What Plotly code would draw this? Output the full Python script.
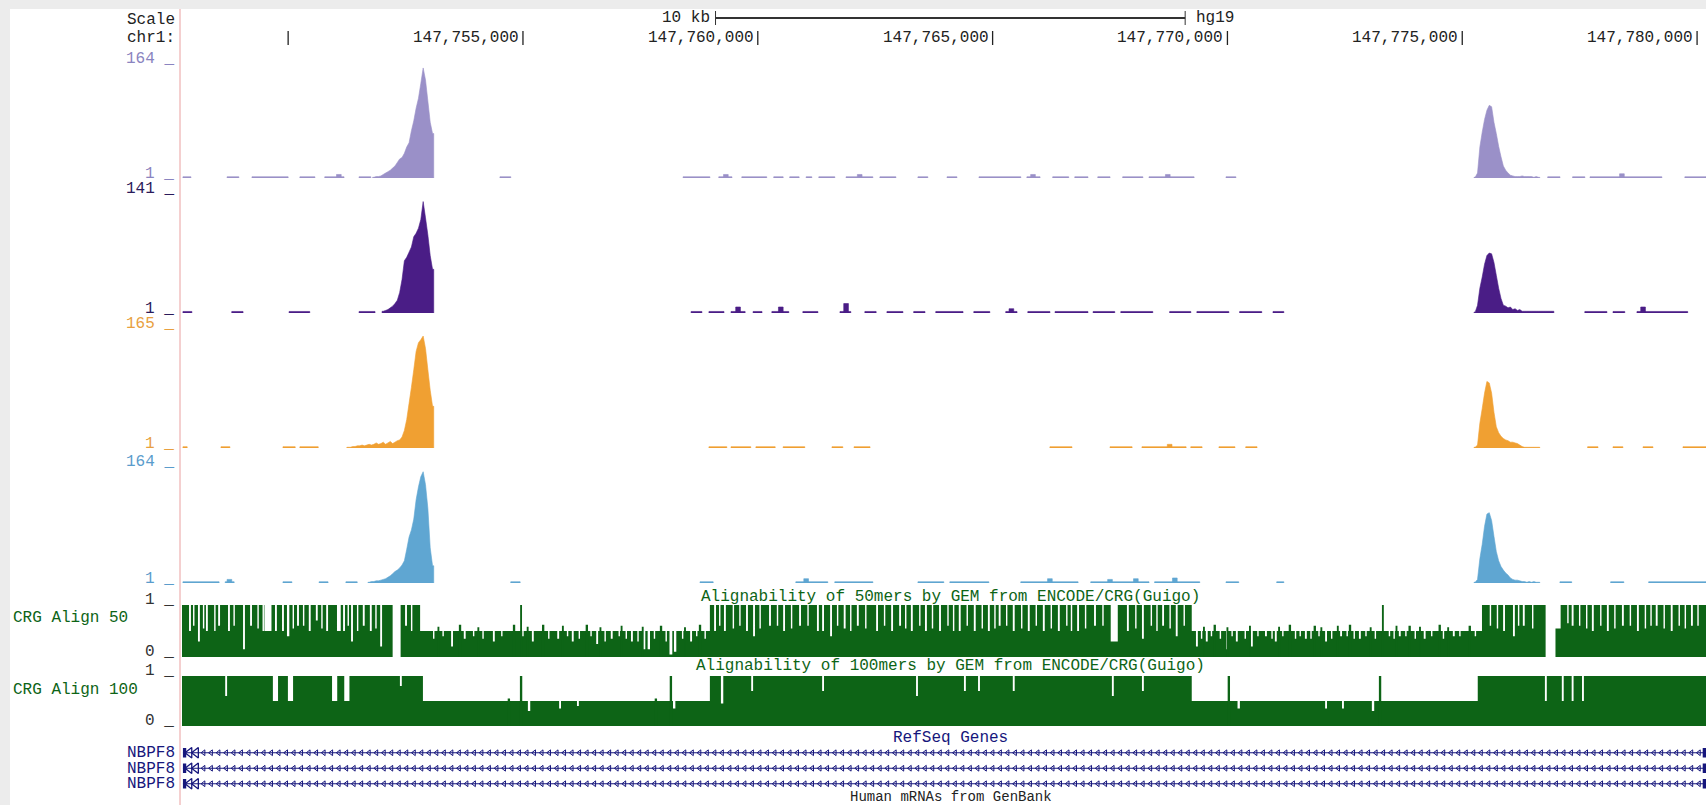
import plotly.graph_objects as go

W, H = 1706, 805
FONT = "Liberation Mono"
FS = 16

# ---------------- data (positions in kb on chr1) ----------------
VIEW_START = 147747.74
VIEW_END = 147780.19
TICK_POS = [147750, 147755, 147760, 147765, 147770, 147775, 147780]
TICK_LABELS = ["", "147,755,000", "147,760,000", "147,765,000", "147,770,000", "147,775,000", "147,780,000"]
SCALE_BAR_START = 147759.1
SCALE_BAR_KB = 10
PEAK_BIN = 0.05      # kb per signal bin
DASH_LEVEL = 2.8     # low background coverage

# Track 1 (light purple)
t1_max = 164
t1_dash = [[147747.76, 147747.93], [147748.70, 147748.95], [147749.23, 147750.00], [147750.25, 147750.57],
           [147750.78, 147751.19], [147751.51, 147751.76], [147754.51, 147754.74], [147758.41, 147758.98],
           [147759.17, 147759.45], [147759.66, 147760.19], [147760.34, 147760.54], [147760.68, 147760.88],
           [147761.03, 147761.15], [147761.30, 147761.64], [147761.88, 147762.45], [147762.60, 147762.94],
           [147763.41, 147763.62], [147764.03, 147764.24], [147764.71, 147765.60], [147765.73, 147766.01],
           [147766.28, 147766.62], [147766.75, 147767.03], [147767.24, 147767.50], [147767.77, 147768.20],
           [147768.33, 147769.29], [147769.97, 147770.18], [147776.82, 147777.08], [147777.35, 147777.61],
           [147777.72, 147779.25], [147779.74, 147780.19]]
t1_bump_pos = [147751.08, 147759.32, 147762.17, 147765.86, 147768.73, 147778.40]
t1_bump_val = [6, 6, 6, 6, 6, 7]
t1_peakA_start = 147751.80
t1_peakA = [2, 3, 3, 4, 6, 8, 10, 12, 15, 18, 23, 28, 30, 36, 45, 51, 68, 82, 100, 114, 135, 157, 140, 110, 80, 64]
t1_peakB_start = 147775.25
t1_peakB = [2, 8, 45, 66, 84, 97, 104, 102, 80, 64, 46, 31, 18, 12, 8, 5, 4, 3, 3, 3, 4, 3, 3, 3, 3, 2, 3, 2]

# Track 2 (dark purple)
t2_max = 141
t2_dash = [[147747.76, 147747.95], [147748.80, 147749.04], [147750.02, 147750.46], [147751.51, 147751.85],
           [147758.58, 147758.81], [147758.96, 147759.28], [147759.43, 147759.73], [147759.90, 147760.09],
           [147760.30, 147760.66], [147760.96, 147761.28], [147761.75, 147761.98], [147762.28, 147762.52],
           [147762.75, 147763.09], [147763.32, 147763.56], [147763.79, 147764.37], [147764.60, 147764.94],
           [147765.28, 147765.52], [147765.75, 147766.22], [147766.33, 147767.03], [147767.14, 147767.60],
           [147767.73, 147768.41], [147768.77, 147769.22], [147769.35, 147770.03], [147770.26, 147770.73],
           [147770.97, 147771.20], [147777.61, 147778.08], [147778.21, 147778.46], [147778.72, 147779.80]]
t2_bump_pos = [147759.58, 147760.49, 147761.88, 147765.40, 147778.85]
t2_bump_val = [8, 8, 12, 6, 8]
t2_peakA_start = 147752.00
t2_peakA = [3, 4, 5, 7, 9, 12, 16, 25, 40, 62, 66, 72, 78, 90, 94, 100, 110, 131, 112, 92, 68, 52]
t2_peakB_start = 147775.25
t2_peakB = [2, 10, 30, 43, 58, 68, 71, 70, 60, 45, 30, 18, 10, 9, 7, 8, 5, 6, 4, 5,
            3, 3, 3, 3, 3, 3, 3, 3, 3, 3, 3, 3, 3, 3]

# Track 3 (orange)
t3_max = 165
t3_dash = [[147747.76, 147747.85], [147748.57, 147748.76], [147749.89, 147750.15], [147750.25, 147750.64],
           [147758.96, 147759.34], [147759.43, 147759.85], [147759.96, 147760.37], [147760.54, 147761.00],
           [147761.58, 147761.81], [147762.05, 147762.39], [147766.22, 147766.69], [147767.50, 147767.97],
           [147768.18, 147769.12], [147769.22, 147769.46], [147769.82, 147770.16], [147770.39, 147770.63],
           [147777.67, 147777.89], [147778.21, 147778.42], [147778.85, 147779.06], [147779.70, 147780.19]]
t3_bump_pos = [147768.77]
t3_bump_val = [6]
t3_peakA_start = 147751.25
t3_peakA = [2, 2, 3, 3, 4, 4, 5, 4, 5, 6, 5, 6, 8, 6, 7, 9, 6, 8, 10, 7,
            9, 11, 12, 16, 25, 40, 62, 84, 108, 133, 145, 149, 154, 137, 108, 80, 58]
t3_peakB_start = 147775.25
t3_peakB = [2, 5, 35, 55, 76, 92, 90, 76, 50, 30, 22, 17, 14, 12, 11, 9, 9, 8, 7, 5, 3, 2, 2, 2, 2, 2, 2, 2]

# Track 4 (blue)
t4_max = 164
t4_dash = [[147747.76, 147748.53], [147748.66, 147748.85], [147749.89, 147750.08], [147750.66, 147750.85],
           [147751.23, 147751.47], [147754.74, 147754.94], [147758.77, 147759.05], [147760.81, 147761.49],
           [147761.64, 147762.45], [147763.41, 147763.96], [147764.09, 147764.92], [147765.60, 147766.82],
           [147767.09, 147768.33], [147768.45, 147769.41], [147769.97, 147770.24], [147771.05, 147771.20],
           [147777.08, 147777.33], [147778.16, 147778.44], [147778.97, 147780.19]]
t4_bump_pos = [147748.75, 147761.03, 147766.22, 147767.50, 147768.05, 147768.88]
t4_bump_val = [6, 7, 7, 6, 7, 8]
t4_peakA_start = 147751.70
t4_peakA = [2, 3, 3, 4, 4, 5, 6, 7, 9, 11, 14, 17, 19, 22, 26, 32, 48, 65, 75, 90,
            117, 135, 149, 156, 138, 105, 50, 25]
t4_peakB_start = 147775.25
t4_peakB = [2, 6, 35, 55, 80, 97, 99, 88, 66, 45, 32, 24, 19, 15, 12, 8, 6, 5, 5, 4, 3, 3, 2, 3, 2, 3, 2, 2]

# Alignability of 50mers: [start, end, level]; dips/spikes: (pos, width, value)
a50_regions = [[147747.74, 147752.81, 1.0], [147752.81, 147758.98, 0.5], [147758.98, 147769.24, 1.0],
               [147769.24, 147775.42, 0.5], [147775.42, 147780.19, 1.0]]
a50_dips = [(147747.91, 0.04, 0.5), (147748.10, 0.04, 0.3), (147748.27, 0.04, 0.5), (147748.53, 0.04, 0.6),
            (147748.74, 0.04, 0.5), (147749.06, 0.04, 0.15), (147749.21, 0.04, 0.6), (147749.57, 0.15, 0.5),
            (147749.74, 0.04, 0.5), (147749.89, 0.04, 0.5), (147750.00, 0.05, 0.4), (147750.21, 0.04, 0.6),
            (147750.46, 0.04, 0.5), (147750.61, 0.04, 0.7), (147750.83, 0.04, 0.5), (147751.08, 0.08, 0.5),
            (147751.19, 0.04, 0.5), (147751.36, 0.04, 0.3), (147751.61, 0.04, 0.6), (147751.76, 0.04, 0.5),
            (147751.98, 0.04, 0.2), (147752.31, 0.17, 0.0), (147752.51, 0.04, 0.6),
            (147747.99, 0.03, 0.6), (147748.20, 0.03, 0.55), (147748.44, 0.03, 0.5), (147748.85, 0.03, 0.6),
            (147749.36, 0.03, 0.55), (147749.47, 0.03, 0.5), (147750.11, 0.03, 0.55), (147750.33, 0.03, 0.6),
            (147750.72, 0.03, 0.55), (147751.28, 0.03, 0.6), (147751.48, 0.03, 0.5), (147751.87, 0.03, 0.55),
            (147752.63, 0.03, 0.5),
            (147753.49, 0.04, 0.2), (147753.76, 0.04, 0.35), (147754.38, 0.04, 0.3), (147755.21, 0.04, 0.3),
            (147755.75, 0.04, 0.35), (147756.06, 0.04, 0.3), (147756.58, 0.04, 0.25), (147756.89, 0.04, 0.35),
            (147757.32, 0.04, 0.3), (147757.58, 0.05, 0.15), (147757.68, 0.05, 0.15), (147758.15, 0.06, 0.05),
            (147758.24, 0.05, 0.1), (147758.58, 0.04, 0.3),
            (147753.10, 0.03, 0.35), (147753.30, 0.03, 0.4), (147753.95, 0.03, 0.4), (147754.15, 0.03, 0.35),
            (147754.55, 0.03, 0.4), (147755.00, 0.03, 0.4), (147755.55, 0.03, 0.35), (147755.95, 0.03, 0.4),
            (147756.20, 0.03, 0.35), (147756.45, 0.03, 0.4), (147756.75, 0.03, 0.3), (147757.05, 0.03, 0.4),
            (147757.20, 0.03, 0.35), (147757.45, 0.03, 0.3), (147757.80, 0.03, 0.35), (147758.05, 0.03, 0.3),
            (147758.40, 0.03, 0.35), (147758.70, 0.03, 0.4), (147758.88, 0.03, 0.35),
            (147759.09, 0.04, 0.5), (147759.30, 0.04, 0.5), (147759.77, 0.04, 0.5), (147759.92, 0.04, 0.4),
            (147760.26, 0.04, 0.6), (147760.56, 0.04, 0.5), (147760.90, 0.04, 0.6), (147761.28, 0.04, 0.5),
            (147761.39, 0.04, 0.5), (147761.56, 0.04, 0.4), (147761.85, 0.04, 0.55), (147762.13, 0.04, 0.6),
            (147762.54, 0.04, 0.5), (147762.86, 0.04, 0.5), (147763.03, 0.04, 0.6), (147763.28, 0.04, 0.5),
            (147763.58, 0.04, 0.5), (147763.88, 0.04, 0.5), (147764.30, 0.04, 0.5), (147764.62, 0.04, 0.5),
            (147764.92, 0.04, 0.5), (147765.15, 0.04, 0.6), (147765.45, 0.04, 0.5), (147765.77, 0.04, 0.5),
            (147766.09, 0.04, 0.5), (147766.41, 0.04, 0.5), (147766.82, 0.04, 0.5), (147767.18, 0.04, 0.6),
            (147767.59, 0.15, 0.3), (147767.88, 0.04, 0.5), (147768.20, 0.04, 0.35), (147768.63, 0.04, 0.6),
            (147768.92, 0.04, 0.4),
            (147759.19, 0.03, 0.6), (147759.48, 0.03, 0.55), (147759.62, 0.03, 0.6), (147760.05, 0.03, 0.55),
            (147760.42, 0.03, 0.6), (147760.72, 0.03, 0.55), (147761.07, 0.03, 0.6), (147761.70, 0.03, 0.6),
            (147761.98, 0.03, 0.5), (147762.30, 0.03, 0.55), (147762.70, 0.03, 0.6), (147763.15, 0.03, 0.55),
            (147763.45, 0.03, 0.6), (147763.72, 0.03, 0.55), (147764.05, 0.03, 0.6), (147764.17, 0.03, 0.5),
            (147764.46, 0.03, 0.6), (147764.78, 0.03, 0.55), (147765.05, 0.03, 0.55), (147765.30, 0.03, 0.6),
            (147765.62, 0.03, 0.55), (147765.93, 0.03, 0.6), (147766.25, 0.03, 0.55), (147766.58, 0.03, 0.6),
            (147766.68, 0.03, 0.5), (147766.98, 0.03, 0.55), (147767.35, 0.03, 0.6), (147768.05, 0.03, 0.55),
            (147768.38, 0.03, 0.6), (147768.50, 0.03, 0.5), (147768.78, 0.03, 0.55), (147769.08, 0.03, 0.6),
            (147769.35, 0.04, 0.2), (147769.56, 0.04, 0.3), (147769.99, 0.04, 0.15), (147770.20, 0.04, 0.3),
            (147770.52, 0.04, 0.2), (147770.82, 0.04, 0.4), (147771.03, 0.04, 0.3), (147771.67, 0.04, 0.35),
            (147772.10, 0.04, 0.3), (147772.42, 0.04, 0.4), (147772.82, 0.04, 0.35), (147773.67, 0.04, 0.4),
            (147774.20, 0.04, 0.35), (147774.82, 0.04, 0.4),
            (147769.45, 0.03, 0.35), (147769.66, 0.03, 0.4), (147769.85, 0.03, 0.35), (147770.10, 0.03, 0.4),
            (147770.38, 0.03, 0.35), (147770.65, 0.03, 0.4), (147770.95, 0.03, 0.35), (147771.18, 0.03, 0.4),
            (147771.45, 0.03, 0.35), (147771.55, 0.03, 0.4), (147771.78, 0.03, 0.35), (147771.95, 0.03, 0.4),
            (147772.22, 0.03, 0.35), (147772.55, 0.03, 0.4), (147772.70, 0.03, 0.35), (147772.95, 0.03, 0.4),
            (147773.15, 0.03, 0.35), (147773.45, 0.03, 0.4), (147773.55, 0.03, 0.35), (147773.80, 0.03, 0.4),
            (147774.00, 0.03, 0.35), (147774.35, 0.03, 0.4), (147774.60, 0.03, 0.35), (147774.95, 0.03, 0.4),
            (147775.28, 0.03, 0.4),
            (147775.89, 0.04, 0.5), (147776.10, 0.04, 0.4), (147776.31, 0.04, 0.6), (147776.88, 0.21, 0.0),
            (147777.04, 0.11, 0.55), (147777.35, 0.04, 0.6), (147777.78, 0.04, 0.5), (147778.10, 0.04, 0.5),
            (147778.42, 0.04, 0.6), (147778.74, 0.04, 0.5), (147779.14, 0.04, 0.6), (147779.46, 0.04, 0.5),
            (147779.89, 0.04, 0.6),
            (147775.60, 0.03, 0.6), (147775.75, 0.03, 0.55), (147776.20, 0.03, 0.6), (147776.50, 0.03, 0.55),
            (147777.25, 0.03, 0.65), (147777.50, 0.03, 0.6), (147777.65, 0.03, 0.55), (147777.95, 0.03, 0.6),
            (147778.25, 0.03, 0.55), (147778.58, 0.03, 0.6), (147778.90, 0.03, 0.55), (147779.02, 0.03, 0.6),
            (147779.30, 0.03, 0.55), (147779.62, 0.03, 0.6), (147779.75, 0.03, 0.55), (147780.02, 0.03, 0.6)]
a50_spikes = [(147754.96, 0.04, 1.0), (147773.31, 0.04, 1.0),
              (147753.66, 0.05, 0.62), (147754.81, 0.05, 0.62), (147755.43, 0.05, 0.62), (147756.36, 0.05, 0.62),
              (147757.94, 0.05, 0.60), (147758.77, 0.05, 0.62), (147769.73, 0.05, 0.62), (147771.33, 0.05, 0.62),
              (147771.86, 0.05, 0.60), (147772.61, 0.05, 0.62), (147773.88, 0.05, 0.60), (147774.52, 0.05, 0.62),
              (147775.16, 0.05, 0.60),
              (147753.20, 0.04, 0.58), (147754.05, 0.04, 0.57), (147755.10, 0.04, 0.58), (147755.85, 0.04, 0.60),
              (147756.65, 0.04, 0.57), (147757.10, 0.04, 0.60), (147757.55, 0.04, 0.58), (147758.45, 0.04, 0.57),
              (147769.50, 0.04, 0.58), (147770.00, 0.04, 0.57), (147770.48, 0.04, 0.60), (147771.10, 0.04, 0.58),
              (147772.00, 0.04, 0.57), (147772.35, 0.04, 0.60), (147773.05, 0.04, 0.57), (147773.60, 0.04, 0.60),
              (147774.10, 0.04, 0.58), (147774.70, 0.04, 0.57)]

# Alignability of 100mers
a100_regions = [[147747.74, 147752.87, 1.0], [147752.87, 147758.98, 0.5], [147758.98, 147769.24, 1.0],
                [147769.24, 147775.33, 0.5], [147775.33, 147780.19, 1.0]]
a100_dips = [(147748.68, 0.04, 0.6), (147749.73, 0.11, 0.5), (147750.05, 0.11, 0.5), (147750.99, 0.11, 0.5),
             (147751.25, 0.11, 0.5), (147752.40, 0.04, 0.8),
             (147755.13, 0.05, 0.3), (147755.79, 0.04, 0.35), (147756.17, 0.04, 0.4), (147758.22, 0.05, 0.35),
             (147759.24, 0.05, 0.45), (147759.88, 0.04, 0.7), (147761.39, 0.04, 0.7), (147763.39, 0.04, 0.6),
             (147764.41, 0.04, 0.7), (147764.71, 0.04, 0.7), (147765.45, 0.04, 0.7), (147767.56, 0.04, 0.6),
             (147768.20, 0.04, 0.7),
             (147770.24, 0.05, 0.35), (147772.10, 0.04, 0.35), (147772.46, 0.04, 0.35), (147773.10, 0.05, 0.3),
             (147776.78, 0.04, 0.5), (147777.14, 0.04, 0.5), (147777.35, 0.04, 0.5), (147777.57, 0.04, 0.5)]
a100_spikes = [(147754.96, 0.05, 1.0), (147758.15, 0.05, 1.0), (147770.03, 0.05, 1.0), (147773.25, 0.05, 1.0),
               (147754.70, 0.05, 0.55), (147757.83, 0.05, 0.55)]

# RefSeq genes
gene_names = ["NBPF8", "NBPF8", "NBPF8"]
gene_start = 147747.76
gene_end = 147780.19
gene_exons = [[147747.76, 147747.83], [147780.12, 147780.19]]
gene_first_arrows = [147747.90, 147748.04]
INTRON_ARROW_STEP = 0.16

# ---------------- colours ----------------
C1, C2, C3, C4 = "#9a90c8", "#4a1d86", "#f0a032", "#5fa6d2"
GREEN = "#0d6416"
NAVY = "#16167c"

# ---------------- helpers ----------------
def py(p):
    return 1 - p / H


def rect_path(segs, vals, base):
    xs, ys = [], []
    for (s, e), v in zip(segs, vals):
        xs += [s, s, e, e, s, None]
        ys += [base, v, v, base, base, None]
    return xs, ys


def peak_path(start, vals, base):
    # outline through bin centres
    end = start + len(vals) * PEAK_BIN
    xs = [start, start] + [start + (i + 0.5) * PEAK_BIN for i in range(len(vals))] + [end, end, start, None]
    ys = [base, vals[0]] + list(vals) + [vals[-1], base, base, None]
    return xs, ys


def poly_trace(xs, ys, color, yaxis, lw=0.0):
    return go.Scatter(x=xs, y=ys, mode="lines", fill="toself", fillcolor=color,
                      line=dict(width=lw, color=color, simplify=False), yaxis=yaxis, hoverinfo="skip",
                      showlegend=False)


fig = go.Figure()

chip = [
    ("y", C1, t1_max, t1_dash, t1_bump_pos, t1_bump_val, t1_peakA_start, t1_peakA, t1_peakB_start, t1_peakB),
    ("y2", C2, t2_max, t2_dash, t2_bump_pos, t2_bump_val, t2_peakA_start, t2_peakA, t2_peakB_start, t2_peakB),
    ("y3", C3, t3_max, t3_dash, t3_bump_pos, t3_bump_val, t3_peakA_start, t3_peakA, t3_peakB_start, t3_peakB),
    ("y4", C4, t4_max, t4_dash, t4_bump_pos, t4_bump_val, t4_peakA_start, t4_peakA, t4_peakB_start, t4_peakB),
]
for ya, col, mx, dash, bpos, bval, pas, pa, pbs, pb in chip:
    xs, ys = rect_path(dash, [DASH_LEVEL] * len(dash), 1)
    fig.add_trace(poly_trace(xs, ys, col, ya, 0.6))
    xs, ys = rect_path([[p - 0.05, p + 0.05] for p in bpos], bval, 1)
    fig.add_trace(poly_trace(xs, ys, col, ya, 0.6))
    for st, vals in ((pas, pa), (pbs, pb)):
        xs, ys = peak_path(st, vals, 1)
        fig.add_trace(poly_trace(xs, ys, col, ya, 0.6))

for ya, regions, dips, spikes in (("y5", a50_regions, a50_dips, a50_spikes),
                                   ("y6", a100_regions, a100_dips, a100_spikes)):
    xs, ys = rect_path([[r[0], r[1]] for r in regions], [r[2] for r in regions], 0)
    fig.add_trace(poly_trace(xs, ys, GREEN, ya))
    dx, dy = [], []
    for p, w, v in dips:
        dx += [p - w / 2, p - w / 2, p + w / 2, p + w / 2, p - w / 2, None]
        dy += [v, 1.0, 1.0, v, v, None]
    fig.add_trace(poly_trace(dx, dy, "white", ya))
    xs, ys = rect_path([[p - w / 2, p + w / 2] for p, w, v in spikes], [v for p, w, v in spikes], 0)
    fig.add_trace(poly_trace(xs, ys, GREEN, ya))

# genes
for i, name in enumerate(gene_names):
    row = 2.5 - i
    fig.add_trace(go.Scatter(x=[gene_start, gene_end], y=[row, row], mode="lines",
                             line=dict(color=NAVY, width=1), yaxis="y7", hoverinfo="skip", showlegend=False))
    n = int((gene_end - gene_start) / INTRON_ARROW_STEP)
    ax = [gene_first_arrows[-1] + INTRON_ARROW_STEP * (k + 1) for k in range(n)]
    ax = [a for a in ax if a < gene_end - 0.05]
    fig.add_trace(go.Scatter(x=ax, y=[row] * len(ax), mode="markers",
                             marker=dict(symbol="triangle-left-open", size=5, color=NAVY, line=dict(width=1, color=NAVY)),
                             yaxis="y7", hoverinfo="skip", showlegend=False))
    fig.add_trace(go.Scatter(x=gene_first_arrows, y=[row] * 2, mode="markers",
                             marker=dict(symbol="triangle-left-open", size=9, color=NAVY, line=dict(width=1.3, color=NAVY)),
                             yaxis="y7", hoverinfo="skip", showlegend=False))
    xs, ys = rect_path(gene_exons, [row + 0.3] * len(gene_exons), row - 0.3)
    fig.add_trace(poly_trace(xs, ys, NAVY, "y7"))

# ---------------- layout ----------------
def yax(top_px, bot_px, lo, hi):
    return dict(domain=[py(bot_px), py(top_px)], range=[lo, hi], anchor="x", visible=False,
                fixedrange=True, showgrid=False, zeroline=False)

TRACK_PX = [(63, 178), (193, 313), (328, 448), (466, 583)]
layout = dict(
    width=W, height=H, margin=dict(l=0, r=0, t=0, b=0),
    paper_bgcolor="#ececec", plot_bgcolor="white", showlegend=False,
    xaxis=dict(domain=[182 / W, 1], range=[VIEW_START, VIEW_END], visible=False, fixedrange=True,
               showgrid=False, zeroline=False),
    yaxis=yax(*TRACK_PX[0], 1, t1_max),
    yaxis2=yax(*TRACK_PX[1], 1, t2_max),
    yaxis3=yax(*TRACK_PX[2], 1, t3_max),
    yaxis4=yax(*TRACK_PX[3], 1, t4_max),
    yaxis5=yax(605, 657, 0, 1),
    yaxis6=yax(676, 726, 0, 1),
    yaxis7=yax(745, 791.5, 0, 3),
)
fig.update_layout(**layout)

shapes = [
    dict(type="rect", xref="paper", yref="paper", x0=10 / W, x1=1, y0=0, y1=py(9),
         fillcolor="white", line=dict(width=0), layer="below"),
    dict(type="line", xref="paper", yref="paper", x0=180 / W, x1=180 / W, y0=0, y1=py(9),
         line=dict(color="#eaa0a0", width=1)),
    dict(type="line", xref="x", yref="paper", x0=SCALE_BAR_START, x1=SCALE_BAR_START + SCALE_BAR_KB,
         y0=py(18), y1=py(18), line=dict(color="#333333", width=2)),
    dict(type="line", xref="x", yref="paper", x0=SCALE_BAR_START, x1=SCALE_BAR_START,
         y0=py(11), y1=py(25), line=dict(color="#333333", width=1)),
    dict(type="line", xref="x", yref="paper", x0=SCALE_BAR_START + SCALE_BAR_KB, x1=SCALE_BAR_START + SCALE_BAR_KB,
         y0=py(11), y1=py(25), line=dict(color="#333333", width=1)),
]
for t in TICK_POS:
    shapes.append(dict(type="line", xref="x", yref="paper", x0=t, x1=t, y0=py(31), y1=py(45),
                       line=dict(color="#222222", width=1.3)))

ann = []


def label(text, xp, yp, color, anchor="right", xref="paper", size=FS):
    ann.append(dict(text=text, x=(xp / W if xref == "paper" else xp), y=py(yp), xref=xref, yref="paper",
                    xanchor=anchor, yanchor="middle", showarrow=False,
                    font=dict(family=FONT, size=size, color=color)))


label("Scale", 177, 20, "#222222")
label("chr1:", 177, 38, "#222222")
label("10 kb", 712, 18, "#222222")
label("hg19", 1194, 18, "#222222", anchor="left")
for t, lab in zip(TICK_POS, TICK_LABELS):
    if lab:
        ann.append(dict(text=lab, x=t, y=py(38), xref="x", yref="paper", xanchor="right", xshift=-2,
                        yanchor="middle", showarrow=False, font=dict(family=FONT, size=FS, color="#222222")))

for (top, bot), mx, col, lc in zip(TRACK_PX, [t1_max, t2_max, t3_max, t4_max], [C1, C2, C3, C4],
                                   ["#8a84c0", "#2a1a5a", "#e8a040", "#5a9ccc"]):
    label(f"{mx} _", 176, top - 4, lc)
    label("1 _", 176, bot - 4, lc)

label("1 _", 176, 600, "#333333")
label("0 _", 176, 652, "#333333")
label("1 _", 176, 671, "#333333")
label("0 _", 176, 721, "#333333")
label("CRG Align 50", 11, 618, GREEN, anchor="left")
label("CRG Align 100", 11, 690, GREEN, anchor="left")
label("Alignability of 50mers by GEM from ENCODE/CRG(Guigo)", 950, 597, GREEN, anchor="center")
label("Alignability of 100mers by GEM from ENCODE/CRG(Guigo)", 950, 666, GREEN, anchor="center")
label("RefSeq Genes", 951, 738, NAVY, anchor="center")
for i, name in enumerate(gene_names):
    label(name, 177, 753 + 15.5 * i, NAVY)
label("Human mRNAs from GenBank", 951, 797, "#222222", anchor="center", size=14)

fig.update_layout(shapes=shapes, annotations=ann)
fig.write_html("out.html", config={"displayModeBar": False},
               post_script="document.body.style.margin='0';document.body.style.padding='0';"
                           "document.body.style.overflow='hidden';document.body.style.background='#ececec';")
